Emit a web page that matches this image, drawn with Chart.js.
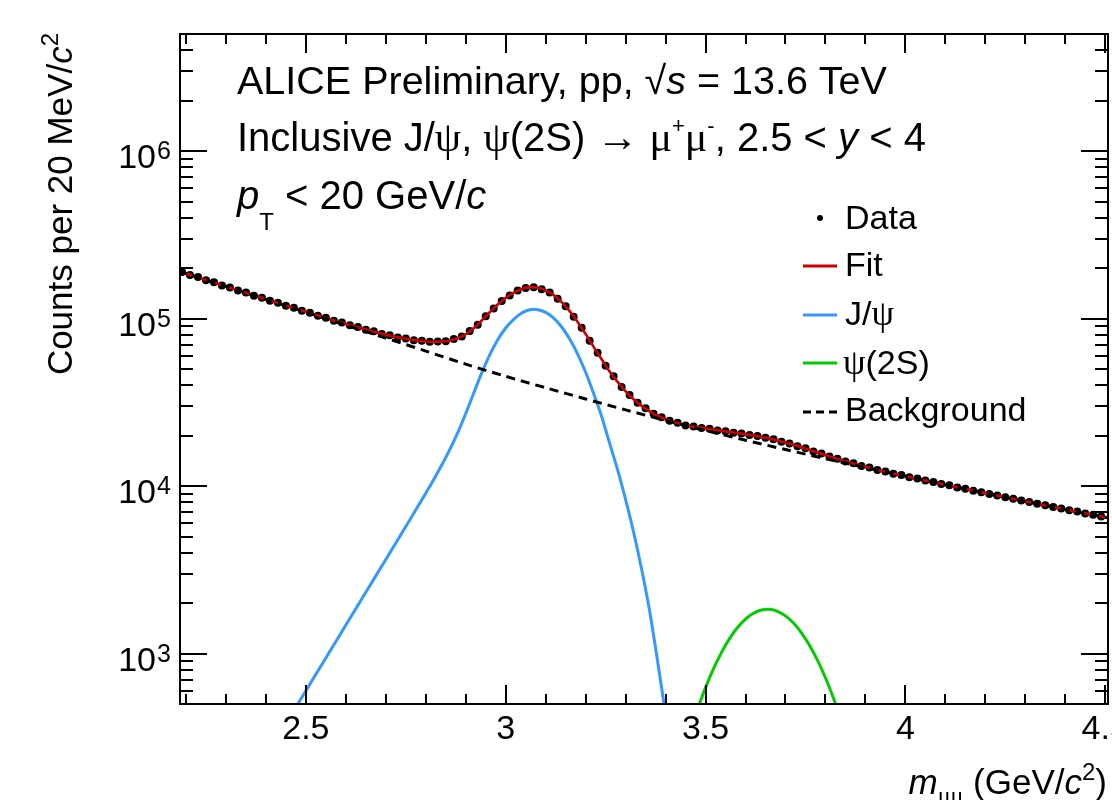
<!DOCTYPE html>
<html>
<head>
<meta charset="utf-8">
<style>
  html, body { margin: 0; padding: 0; background: #fff; }
  canvas { display: block; }
</style>
</head>
<body>
<canvas id="massChart" width="1112" height="800"></canvas>
<script src="https://cdn.jsdelivr.net/npm/chart.js@4.4.1/dist/chart.umd.min.js"></script>
<script>
// 20 MeV/c2 bins
const BIN = 0.02;

// data points, bin centres from 2.19 to 4.49
const dataStart = 2.19;
const dataCounts = [
    189500, 182000, 176800, 169500, 164600, 157800, 153500, 147200, 142900, 137000,
    133100, 127600, 124300, 119200, 116000, 111200, 108300, 103800, 101200, 97200,
    94800, 91100, 89000, 85700, 83900, 81000, 79500, 77100, 76000, 74200,
    73700, 72600, 73000, 73200, 75400, 78100, 84400, 92000, 103400, 114800,
    127400, 137500, 146900, 152000, 153700, 149700, 143100, 131200, 118300, 102400,
    88300, 73700, 62600, 52300, 45200, 39000, 35000, 31400, 29150, 27000,
    25800, 24550, 23880, 23000, 22700, 22250, 21980, 21500, 21280, 20850,
    20620, 20170, 19920, 19400, 19050, 18420, 17980, 17290, 16800, 16100,
    15630, 15000, 14570, 14020, 13670, 13190, 12890, 12480, 12220, 11860,
    11630, 11300, 11090, 10780, 10570, 10290, 10100, 9820, 9640, 9380,
    9200, 8960, 8790, 8570, 8400, 8190, 8035, 7835, 7685, 7495,
    7355, 7170, 7040, 6870, 6740, 6580
];

// total fit, 2.18 to 4.52
const fitStart = 2.18;
const fitCounts = [
    192300, 185800, 179300, 173100, 167000, 161200, 155600, 150200, 144900, 139900,
    135000, 130300, 126100, 121750, 117600, 113600, 109700, 106000, 102530, 99160,
    95950, 92890, 90000, 87270, 84730, 82370, 80210, 78230, 76490, 75010,
    73860, 73040, 72660, 72890, 73930, 76280, 80600, 87630, 97360, 109070,
    121460, 132990, 142760, 150440, 154030, 152860, 147440, 138070, 125430, 110730,
    95560, 80910, 67790, 57200, 48270, 41880, 36810, 33000, 30110, 27940,
    26290, 25090, 24180, 23420, 22740, 22550, 22110, 21720, 21380, 21050,
    20730, 20400, 20050, 19660, 19230, 18740, 18200, 17640, 17050, 16450,
    15860, 15310, 14780, 14290, 13840, 13420, 13030, 12680, 12310, 12020,
    11730, 11460, 11190, 10930, 10680, 10430, 10190, 9954, 9727, 9506,
    9290, 9078, 8876, 8678, 8484, 8295, 8110, 7933, 7759, 7590,
    7424, 7261, 7106, 6954, 6805, 6659, 6516, 6377
];

// J/psi signal, 2.46 to 3.42
const jpsiStart = 2.46;
const jpsiCounts = [
    418, 501, 600, 719, 861, 1031, 1235, 1480, 1773, 2123,
    2543, 3047, 3649, 4371, 5236, 6272, 7543, 9069, 10950, 13350,
    16500, 20870, 27140, 35940, 47380, 60740, 74730, 87800, 98970, 108000,
    112900, 113000, 108800, 100600, 89100, 75500, 61400, 47800, 35650, 26000,
    18000, 12500, 8300, 5300, 3200, 1800, 900, 430, 190
];

// psi(2S) signal, 3.46 to 3.84
const psi2sStart = 3.46;
const psi2sCounts = [
    334, 466, 626, 812, 1017, 1228, 1430, 1607, 1742, 1822,
    1838, 1789, 1680, 1522, 1331, 1122, 913, 717, 543, 397
];

// background
const bkgMass = [2.18, 2.2, 2.3, 2.4, 2.5, 2.6, 2.7, 2.8, 2.9, 3.0, 3.1, 3.2, 3.3,
                 3.4, 3.5, 3.6, 3.7, 3.8, 3.9, 4.0, 4.1, 4.2, 4.3, 4.4, 4.5, 4.52];
const bkgCounts = [192300, 185800, 155600, 130300, 109100, 91410, 76560, 63970, 53460,
                   45190, 38640, 33110, 28510, 24660, 21480, 18790, 16520, 14590,
                   12910, 11460, 10190, 9078, 8110, 7261, 6516, 6377];

// axes
const xRange = [2.185, 4.507];
const yRange = [500, 5e6];
const xTickValues = [2.5, 3, 3.5, 4, 4.5];
const xTickLabels = ['2.5', '3', '3.5', '4', '4.5'];
const yTickExponents = [3, 4, 5, 6];

const SANS = '"Liberation Sans", Arial, sans-serif';
const SERIF = '"Liberation Serif", "DejaVu Serif", serif';

const COLORS = {
    fit: '#cc0000',
    jpsi: '#3399ff',
    psi2s: '#00cc00',
    bkg: '#000000'
};

function binned(start, values) {
    return values.map((v, i) => ({ x: +(start + i * BIN).toFixed(3), y: v }));
}

function fontOf(p) {
    return (p.i ? 'italic ' : '') + (p.s || 40) + 'px ' + (p.g ? SERIF : SANS);
}

function richWidth(ctx, parts) {
    let w = 0;
    parts.forEach(p => { ctx.font = fontOf(p); w += ctx.measureText(p.t).width; });
    return w;
}

function drawRich(ctx, x, y, parts, align) {
    if (align === 'right') x -= richWidth(ctx, parts);
    ctx.textAlign = 'left';
    ctx.textBaseline = 'alphabetic';
    parts.forEach(p => {
        ctx.font = fontOf(p);
        ctx.fillText(p.t, x, y + (p.dy || 0));
        x += ctx.measureText(p.t).width;
    });
}

function seg(ctx, x1, y1, x2, y2) {
    ctx.beginPath();
    ctx.moveTo(x1, y1);
    ctx.lineTo(x2, y2);
    ctx.stroke();
}

// ROOT-like frame, ticks, labels and text
const rootStyle = {
    id: 'rootStyle',
    afterDraw(chart) {
        const { ctx, chartArea: a } = chart;
        const xs = chart.scales.x;
        const ys = chart.scales.y;
        ctx.save();
        ctx.fillStyle = '#000';
        ctx.strokeStyle = '#000';
        ctx.lineWidth = 2;
        ctx.setLineDash([]);
        ctx.strokeRect(a.left, a.top, a.right - a.left, a.bottom - a.top);

        // x ticks every 0.1, major every 0.5
        for (let i = 22; i <= 45; i++) {
            const px = Math.round(xs.getPixelForValue(i / 10));
            const len = i % 5 === 0 ? 19 : 10;
            seg(ctx, px, a.bottom, px, a.bottom - len);
            seg(ctx, px, a.top, px, a.top + len);
        }
        // y ticks
        for (let e = 2; e <= 6; e++) {
            for (let m = 1; m <= 9; m++) {
                const v = m * Math.pow(10, e);
                if (v < yRange[0] || v > yRange[1]) continue;
                const py = Math.round(ys.getPixelForValue(v));
                const len = m === 1 ? 27 : 13;
                seg(ctx, a.left, py, a.left + len, py);
                seg(ctx, a.right, py, a.right - len, py);
            }
        }

        // x tick labels
        ctx.font = '34px ' + SANS;
        ctx.textAlign = 'center';
        ctx.textBaseline = 'alphabetic';
        xTickValues.forEach((v, i) => {
            ctx.fillText(xTickLabels[i], xs.getPixelForValue(v), 739);
        });

        // y tick labels 10^n
        yTickExponents.forEach(e => {
            const py = ys.getPixelForValue(Math.pow(10, e));
            ctx.font = '34px ' + SANS;
            ctx.textAlign = 'right';
            ctx.fillText('10', 156, py + 17);
            ctx.font = '25px ' + SANS;
            ctx.textAlign = 'left';
            ctx.fillText(String(e), 157, py + 8);
        });

        // axis titles
        drawRich(ctx, 1107, 794, [
            { t: 'm', i: true, s: 35 },
            { t: 'μμ', g: true, s: 24, dy: 9 },
            { t: ' (GeV/', s: 35 },
            { t: 'c', i: true, s: 35 },
            { t: '2', s: 24, dy: -14 },
            { t: ')', s: 35 }
        ], 'right');

        ctx.save();
        ctx.translate(72, 33);
        ctx.rotate(-Math.PI / 2);
        drawRich(ctx, 0, 0, [
            { t: 'Counts per 20 MeV/', s: 35 },
            { t: 'c', i: true, s: 35 },
            { t: '2', s: 24, dy: -14 }
        ], 'right');
        ctx.restore();

        // header
        drawRich(ctx, 237, 94, [
            { t: 'ALICE Preliminary, pp, ', s: 39.5 },
            { t: '√', s: 39.5 },
            { t: 's', i: true, s: 39.5 },
            { t: ' = 13.6 TeV', s: 39.5 }
        ]);
        drawRich(ctx, 237, 151, [
            { t: 'Inclusive J/' },
            { t: 'ψ', g: true, s: 42 },
            { t: ', ' },
            { t: 'ψ', g: true, s: 42 },
            { t: '(2S) ' },
            { t: '→', g: true, s: 42 },
            { t: ' ' },
            { t: 'μ', g: true, s: 42 },
            { t: '+', s: 22, dy: -18 },
            { t: 'μ', g: true, s: 42 },
            { t: '-', s: 22, dy: -18 },
            { t: ', 2.5 < ' },
            { t: 'y', i: true },
            { t: ' < 4' }
        ]);
        drawRich(ctx, 237, 209, [
            { t: 'p', i: true },
            { t: 'T', s: 24, dy: 21 },
            { t: ' < 20 GeV/' },
            { t: 'c', i: true }
        ]);

        // legend
        const lx1 = 803, lx2 = 837, tx = 845;
        ctx.beginPath();
        ctx.arc(820, 218, 3, 0, Math.PI * 2);
        ctx.fill();
        drawRich(ctx, tx, 229, [{ t: 'Data', s: 34 }]);

        ctx.lineWidth = 3;
        ctx.strokeStyle = COLORS.fit;
        seg(ctx, lx1, 266, lx2, 266);
        drawRich(ctx, tx, 276, [{ t: 'Fit', s: 34 }]);

        ctx.strokeStyle = COLORS.jpsi;
        seg(ctx, lx1, 315, lx2, 315);
        drawRich(ctx, tx, 325, [{ t: 'J/', s: 34 }, { t: 'ψ', g: true, s: 36 }]);

        ctx.strokeStyle = COLORS.psi2s;
        seg(ctx, lx1, 363, lx2, 363);
        drawRich(ctx, tx - 2, 374, [{ t: 'ψ', g: true, s: 36 }, { t: '(2S)', s: 34 }]);

        ctx.strokeStyle = COLORS.bkg;
        ctx.setLineDash([8, 5]);
        seg(ctx, lx1, 412, lx2, 412);
        ctx.setLineDash([]);
        drawRich(ctx, tx, 421, [{ t: 'Background', s: 34 }]);

        ctx.restore();
    }
};

new Chart(document.getElementById('massChart'), {
    type: 'scatter',
    data: {
        datasets: [
            {
                label: 'Background',
                data: bkgMass.map((m, i) => ({ x: m, y: bkgCounts[i] })),
                showLine: true,
                borderColor: COLORS.bkg,
                borderWidth: 3,
                borderDash: [9, 6],
                pointRadius: 0,
                tension: 0.3,
                order: 0
            },
            {
                label: 'Fit',
                data: binned(fitStart, fitCounts),
                showLine: true,
                borderColor: COLORS.fit,
                borderWidth: 2.6,
                pointRadius: 0,
                tension: 0.3,
                order: 1
            },
            {
                label: 'J/ψ',
                data: binned(jpsiStart, jpsiCounts),
                showLine: true,
                borderColor: COLORS.jpsi,
                borderWidth: 3,
                pointRadius: 0,
                tension: 0.3,
                order: 2
            },
            {
                label: 'ψ(2S)',
                data: binned(psi2sStart, psi2sCounts),
                showLine: true,
                borderColor: COLORS.psi2s,
                borderWidth: 3,
                pointRadius: 0,
                tension: 0.3,
                order: 3
            },
            {
                label: 'Data',
                data: binned(dataStart, dataCounts),
                showLine: false,
                pointRadius: 4,
                pointBorderWidth: 0,
                pointBackgroundColor: '#000',
                order: 4
            }
        ]
    },
    options: {
        responsive: false,
        animation: false,
        devicePixelRatio: 1,
        layout: {
            padding: { left: 180, right: 3, top: 34, bottom: 96 }
        },
        plugins: {
            legend: { display: false },
            tooltip: { enabled: false }
        },
        scales: {
            x: {
                type: 'linear',
                min: xRange[0],
                max: xRange[1],
                display: false
            },
            y: {
                type: 'logarithmic',
                min: yRange[0],
                max: yRange[1],
                display: false
            }
        }
    },
    plugins: [rootStyle]
});
</script>
</body>
</html>
